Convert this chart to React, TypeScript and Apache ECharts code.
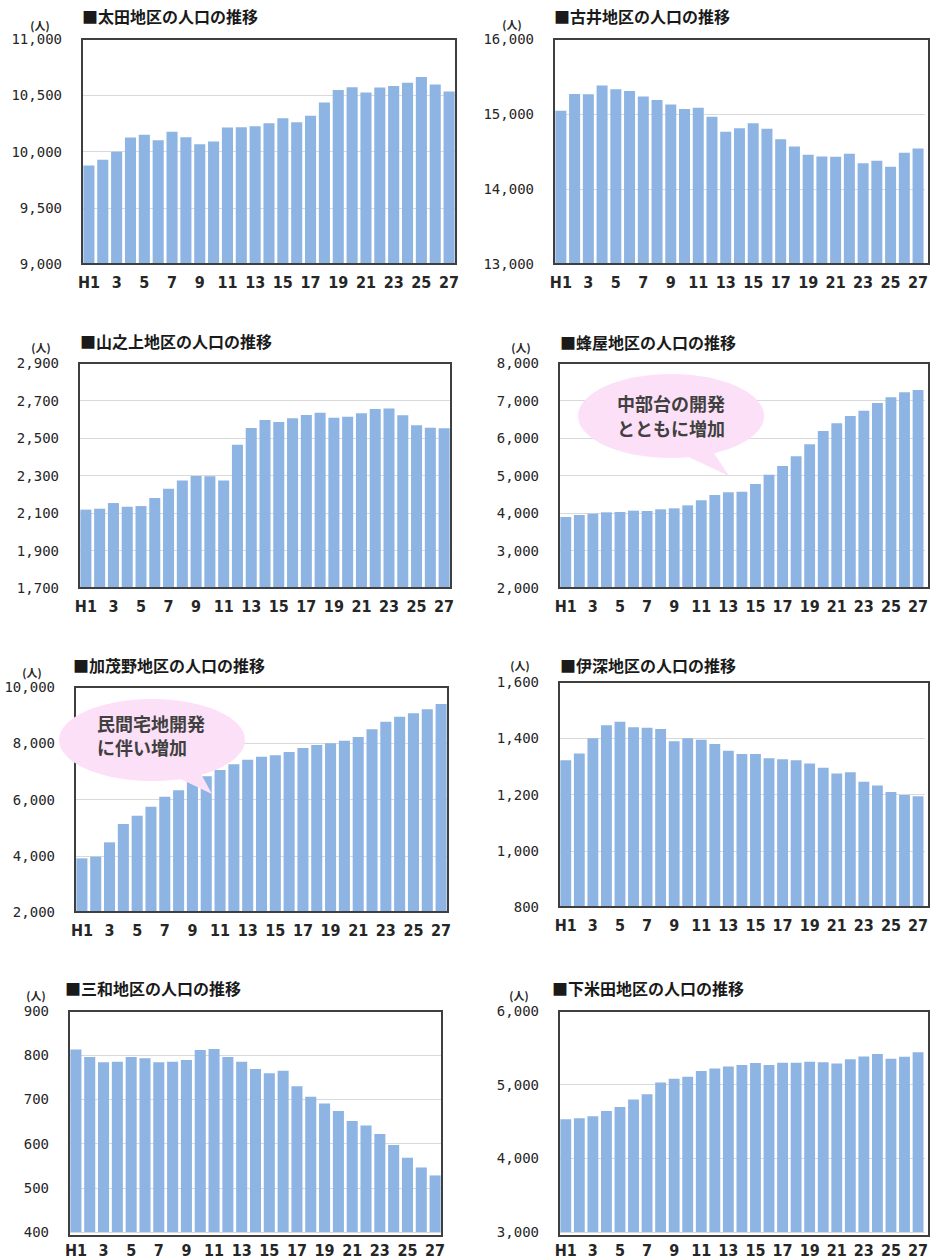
import React, { useEffect, useRef } from "react";
import * as echarts from "echarts";

// ---- data ----
const categories = ["H1", "2", "3", "4", "5", "6", "7", "8", "9", "10", "11", "12", "13", "14", "15", "16", "17", "18", "19", "20", "21", "22", "23", "24", "25", "26", "27"];

const otaTitle = "■太田地区の人口の推移";
const otaValues = [9876, 9926, 9997, 10124, 10148, 10101, 10175, 10127, 10065, 10089, 10213, 10216, 10225, 10251, 10296, 10260, 10317, 10435, 10547, 10571, 10524, 10568, 10583, 10612, 10663, 10595, 10533];
const otaTicks = [9000, 9500, 10000, 10500, 11000];

const furuiTitle = "■古井地区の人口の推移";
const furuiValues = [15042, 15268, 15264, 15379, 15330, 15308, 15233, 15188, 15126, 15068, 15082, 14962, 14762, 14811, 14877, 14802, 14664, 14567, 14456, 14434, 14429, 14469, 14345, 14376, 14296, 14482, 14540];
const furuiTicks = [13000, 14000, 15000, 16000];

const yamanoueTitle = "■山之上地区の人口の推移";
const yamanoueValues = [2118, 2123, 2153, 2134, 2137, 2180, 2230, 2274, 2297, 2296, 2274, 2464, 2553, 2596, 2585, 2605, 2623, 2635, 2608, 2614, 2632, 2655, 2658, 2621, 2568, 2555, 2552];
const yamanoueTicks = [1700, 1900, 2100, 2300, 2500, 2700, 2900];

const hachiyaTitle = "■蜂屋地区の人口の推移";
const hachiyaValues = [3893, 3947, 3982, 4018, 4027, 4062, 4053, 4098, 4124, 4204, 4338, 4480, 4551, 4569, 4773, 5022, 5253, 5511, 5831, 6187, 6391, 6587, 6729, 6933, 7084, 7218, 7280];
const hachiyaTicks = [2000, 3000, 4000, 5000, 6000, 7000, 8000];
const hachiyaNote = ["中部台の開発", "とともに増加"];

const kamonoTitle = "■加茂野地区の人口の推移";
const kamonoValues = [3908, 3967, 4477, 5129, 5425, 5745, 6101, 6326, 6634, 6824, 7049, 7250, 7416, 7523, 7570, 7689, 7831, 7938, 7997, 8092, 8222, 8495, 8767, 8945, 9064, 9206, 9396];
const kamonoTicks = [2000, 4000, 6000, 8000, 10000];
const kamonoNote = ["民間宅地開発", "に伴い増加"];

const ibukaTitle = "■伊深地区の人口の推移";
const ibukaValues = [1322, 1346, 1400, 1446, 1459, 1439, 1437, 1433, 1389, 1400, 1395, 1380, 1356, 1344, 1344, 1329, 1325, 1322, 1310, 1295, 1275, 1279, 1245, 1232, 1209, 1198, 1194];
const ibukaTicks = [800, 1000, 1200, 1400, 1600];

const miwaTitle = "■三和地区の人口の推移";
const miwaValues = [813, 796, 784, 785, 796, 793, 784, 785, 789, 812, 814, 796, 785, 769, 759, 765, 730, 706, 691, 674, 651, 641, 622, 597, 568, 546, 528];
const miwaTicks = [400, 500, 600, 700, 800, 900];

const shimoyonedaTitle = "■下米田地区の人口の推移";
const shimoyonedaValues = [4531, 4545, 4571, 4642, 4696, 4798, 4869, 5028, 5082, 5108, 5184, 5219, 5246, 5268, 5295, 5268, 5299, 5299, 5312, 5304, 5286, 5344, 5383, 5415, 5352, 5379, 5441];
const shimoyonedaTicks = [3000, 4000, 5000, 6000];

const unitLabel = "(人)";

// ---- layout ----
const charts = [
  { title: otaTitle, values: otaValues, ticks: otaTicks, grid: { left: 82, top: 39, width: 374, height: 225 }, titlePos: [82, 16], unitPos: [40, 25] },
  { title: furuiTitle, values: furuiValues, ticks: furuiTicks, grid: { left: 554, top: 39, width: 375, height: 225 }, titlePos: [554, 16], unitPos: [512, 24] },
  { title: yamanoueTitle, values: yamanoueValues, ticks: yamanoueTicks, grid: { left: 79, top: 363, width: 372, height: 225 }, titlePos: [80, 341], unitPos: [41, 347] },
  { title: hachiyaTitle, values: hachiyaValues, ticks: hachiyaTicks, grid: { left: 559, top: 363, width: 370, height: 225 }, titlePos: [560, 342], unitPos: [521, 347] },
  { title: kamonoTitle, values: kamonoValues, ticks: kamonoTicks, grid: { left: 75, top: 687, width: 373, height: 225 }, titlePos: [73, 665], unitPos: [32, 672] },
  { title: ibukaTitle, values: ibukaValues, ticks: ibukaTicks, grid: { left: 559, top: 682, width: 370, height: 225 }, titlePos: [560, 665], unitPos: [520, 665] },
  { title: miwaTitle, values: miwaValues, ticks: miwaTicks, grid: { left: 69, top: 1011, width: 373, height: 225 }, titlePos: [65, 988], unitPos: [36, 995] },
  { title: shimoyonedaTitle, values: shimoyonedaValues, ticks: shimoyonedaTicks, grid: { left: 559, top: 1011, width: 370, height: 225 }, titlePos: [552, 988], unitPos: [519, 995] },
];

const callouts = [
  { lines: hachiyaNote, cx: 671, cy: 416, rx: 93, ry: 42, tail: [[678, 452], [712, 450], [729, 476]], textX: 617, textY: [403, 428] },
  { lines: kamonoNote, cx: 152, cy: 740, rx: 93, ry: 41, tail: [[170, 774], [200, 772], [212, 794]], textX: 97, textY: [723, 747] },
];

const BAR_COLOR = "#8DB4E2";
const TEXT_COLOR = "#262626";
const CJK_FONT = "'Noto Sans CJK JP', 'Noto Sans', sans-serif";
const NUM_FONT = "'DejaVu Sans Mono', 'Liberation Mono', monospace";
const XLABEL_FONT = "'Liberation Sans Narrow', 'DejaVu Sans Condensed', 'Liberation Sans', sans-serif";

function buildOption() {
  const grid: any[] = [];
  const xAxis: any[] = [];
  const yAxis: any[] = [];
  const series: any[] = [];
  const graphic: any[] = [];

  charts.forEach((c, i) => {
    const min = c.ticks[0];
    const max = c.ticks[c.ticks.length - 1];
    const interval = c.ticks[1] - c.ticks[0];
    const base = min % interval === 0 ? 0 : min;
    grid.push({ ...c.grid, containLabel: false });
    xAxis.push({
      type: "category",
      gridIndex: i,
      data: categories,
      axisLine: { show: false },
      axisTick: { show: false },
      axisLabel: {
        interval: 1,
        margin: 10,
        color: TEXT_COLOR,
        fontSize: 16,
        fontWeight: "bold",
        fontFamily: XLABEL_FONT,
      },
    });
    yAxis.push({
      type: "value",
      gridIndex: i,
      min: min - base,
      max: max - base,
      interval,
      axisLine: { show: false },
      axisTick: { show: false },
      splitLine: { lineStyle: { color: "#D9D9D9", width: 1 } },
      axisLabel: {
        margin: 20,
        color: TEXT_COLOR,
        fontSize: 14,
        fontFamily: NUM_FONT,
        formatter: (v: number) => (v + base).toLocaleString("en-US"),
      },
    });
    series.push({
      type: "bar",
      xAxisIndex: i,
      yAxisIndex: i,
      data: c.values.map((v) => v - base),
      itemStyle: { color: BAR_COLOR },
      barCategoryGap: "20%",
      silent: true,
    });
    graphic.push({
      type: "rect",
      z: 20,
      silent: true,
      shape: { x: c.grid.left, y: c.grid.top, width: c.grid.width, height: c.grid.height },
      style: { fill: "none", stroke: "#3F3F3F", lineWidth: 2 },
    });
    graphic.push({
      type: "text",
      z: 20,
      x: c.titlePos[0],
      y: c.titlePos[1],
      style: {
        text: c.title,
        fill: "#1A1A1A",
        font: `bold 16px ${CJK_FONT}`,
        textAlign: "left",
        textVerticalAlign: "middle",
        align: "left",
        verticalAlign: "middle",
      },
    });
    graphic.push({
      type: "text",
      z: 20,
      x: c.unitPos[0],
      y: c.unitPos[1],
      style: {
        text: unitLabel,
        fill: TEXT_COLOR,
        font: `bold 11px ${CJK_FONT}`,
        textAlign: "center",
        textVerticalAlign: "middle",
        align: "center",
        verticalAlign: "middle",
      },
    });
  });

  callouts.forEach((b) => {
    graphic.push({
      type: "ellipse",
      z: 30,
      silent: true,
      shape: { cx: b.cx, cy: b.cy, rx: b.rx, ry: b.ry },
      style: { fill: "#FCE0F7" },
    });
    graphic.push({
      type: "polygon",
      z: 30,
      silent: true,
      shape: { points: b.tail },
      style: { fill: "#FCE0F7" },
    });
    b.lines.forEach((line, k) => {
      graphic.push({
        type: "text",
        z: 31,
        x: b.textX,
        y: b.textY[k],
        style: {
          text: line,
          fill: "#404040",
          font: `bold 18px ${CJK_FONT}`,
          textAlign: "left",
          textVerticalAlign: "middle",
          align: "left",
          verticalAlign: "middle",
        },
      });
    });
  });

  return { animation: false, grid, xAxis, yAxis, series, graphic };
}

export default function App() {
  const ref = useRef<HTMLDivElement>(null);
  useEffect(() => {
    if (!ref.current) return;
    const chart = echarts.init(ref.current, null, { renderer: "svg" });
    chart.setOption(buildOption() as any);
    return () => chart.dispose();
  }, []);
  return (
    <div
      ref={ref}
      style={{ position: "absolute", left: 0, top: 0, width: 931, height: 1258, background: "#ffffff" }}
    />
  );
}
